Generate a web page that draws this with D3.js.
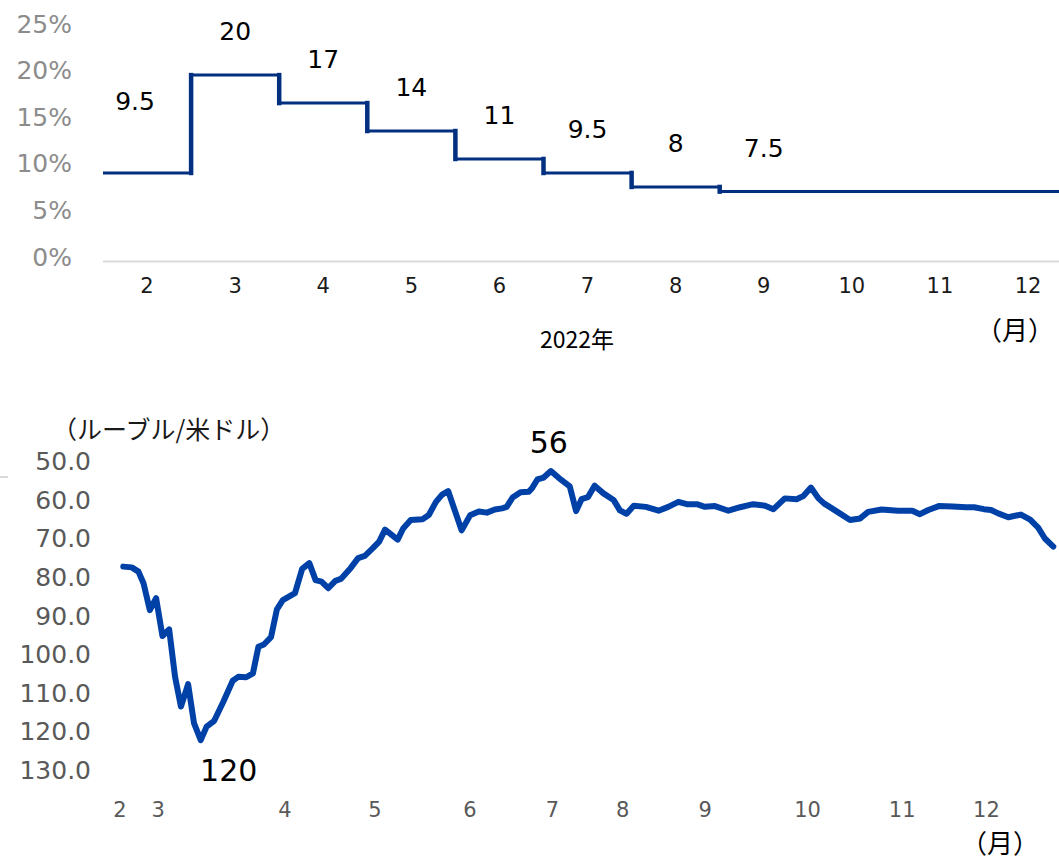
<!DOCTYPE html>
<html>
<head>
<meta charset="utf-8">
<script src="https://cdn.jsdelivr.net/npm/d3@7"></script>
<style>
  html, body { margin: 0; padding: 0; background: #fff; }
  svg { display: block; }
  text { font-family: "DejaVu Sans", Verdana, sans-serif; }
  .jp { font-family: "Noto Sans CJK JP", "DejaVu Sans", sans-serif; }
</style>
</head>
<body>
<svg id="chart" width="1059" height="861"></svg>
<script>
// ---------- Top chart: policy rate (%) ----------
const rateMonths = ["2", "3", "4", "5", "6", "7", "8", "9", "10", "11", "12"];
const rateValues = [9.5, 20, 17, 14, 11, 9.5, 8, 7.5, 7.5, 7.5, 7.5];
const rateLabels = ["9.5", "20", "17", "14", "11", "9.5", "8", "7.5", "", "", ""];
const rateTicks = [0, 5, 10, 15, 20, 25];

// ---------- Bottom chart: RUB per USD (trading-day index, value) ----------
const fxDay = [0, 2.0, 3.6, 4.8, 6.3, 7.8, 9.3, 10.9, 12.3, 13.7, 15.4, 16.8, 18.4, 19.8, 21.6, 23.8,
  26.0, 27.3, 29.2, 30.8, 32.1, 33.4, 35.1, 36.5, 37.9, 40.8, 42.5, 44.2, 45.7, 47.1, 48.7, 50.4,
  51.7, 54.0, 55.8, 57.4, 59.3, 60.8, 62.2, 65.2, 66.5, 68.3, 71.1, 72.6, 74.3, 75.7, 77.2, 80.4,
  82.4, 84.5, 86.4, 88.3, 90.0, 91.1, 92.5, 94.4, 96.3, 97.1, 98.4, 99.9, 101.6, 103.6, 106.1,
  107.6, 108.9, 110.4, 112.0, 114.1, 116.5, 118.0, 119.6, 121.3, 124.2, 127.2, 129.5, 131.9,
  133.9, 136.3, 138.2, 140.6, 143.8, 146.6, 149.7, 152.5, 154.5, 157.2, 160.0, 161.6, 163.4,
  165.2, 166.5, 169.7, 172.7, 175.1, 177.0, 180.2, 184.1, 187.5, 189.3, 191.3, 193.8, 197.1,
  200.3, 202.2, 204.5, 206.2, 207.9, 210.3, 213.3, 215.5, 217.4, 219.0, 221.0];
const fxRate = [76.8, 77.0, 78.1, 81.1, 88.1, 85.0, 94.8, 93.1, 105.4, 113.1, 107.3, 117.4, 121.8, 118.3, 116.8, 111.8,
  106.4, 105.4, 105.5, 104.5, 97.6, 97.0, 95.1, 87.9, 85.5, 83.7, 77.4, 75.9, 80.3, 80.7, 82.4, 80.5,
  80.0, 77.2, 74.6, 74.0, 72.0, 70.3, 67.2, 69.8, 66.9, 64.7, 64.5, 63.4, 60.0, 58.2, 57.2, 67.4,
  63.5, 62.5, 62.8, 62.0, 61.7, 61.3, 58.9, 57.5, 57.4, 56.5, 54.2, 53.7, 52.0, 53.9, 56.0,
  62.4, 59.3, 58.8, 55.8, 57.8, 59.5, 62.2, 63.1, 61.0, 61.3, 62.3, 61.3, 60.0,
  60.6, 60.6, 61.3, 61.1, 62.3, 61.4, 60.6, 61.0, 61.9, 59.1, 59.3, 58.5, 56.3,
  59.1, 60.4, 62.6, 64.7, 64.3, 62.6, 62.0, 62.3, 62.3, 63.2, 62.1, 61.1, 61.2,
  61.4, 61.4, 61.9, 62.1, 63.0, 64.0, 63.3, 64.6, 66.7, 69.5, 71.6];
const fxTicks = [50, 60, 70, 80, 90, 100, 110, 120, 130];
const fxMonthLabels = ["2", "3", "4", "5", "6", "7", "8", "9", "10", "11", "12"];
const fxMonthDays = [-0.8, 8.3, 38.4, 59.8, 82.4, 102.0, 118.7, 138.3, 162.6, 185.1, 205.1];
const fxAnnotations = [{ text: "120", day: 18.4, value: 121.8, dy: 32, dx: 28 },
                       { text: "56", day: 101.6, value: 52.0, dy: -27, dx: -2 }];

const svg = d3.select("#chart");

// ===== Top chart =====
const topNavy = "#00307f";
const xTop = d3.scaleBand().domain(rateMonths).range([103, 103 + 88.1 * rateMonths.length]).padding(0);
const yTop = d3.scaleLinear().domain([0, 25]).range([261.5, 28.5]);

svg.append("line").attr("x1", 103).attr("x2", 1059)
  .attr("y1", yTop(0)).attr("y2", yTop(0))
  .attr("stroke", "#d9d9d9").attr("stroke-width", 2);

svg.append("g").selectAll("text").data(rateTicks).join("text")
  .attr("x", 72).attr("y", d => yTop(d) - 3)
  .attr("text-anchor", "end").attr("dominant-baseline", "middle")
  .attr("fill", "#8c8c8c").attr("font-size", 25)
  .text(d => d + "%");

svg.append("g").selectAll("text").data(rateMonths).join("text")
  .attr("x", d => xTop(d) + xTop.bandwidth() / 2).attr("y", 287)
  .attr("text-anchor", "middle").attr("dominant-baseline", "middle")
  .attr("fill", "#1a1a1a").attr("font-size", 21)
  .text(d => d);

const stepPts = rateMonths.map((m, i) => [xTop(m), rateValues[i]]);
stepPts.push([xTop(rateMonths[rateMonths.length - 1]) + xTop.bandwidth(), rateValues[rateValues.length - 1]]);
const stepLine = d3.line().x(d => d[0]).y(d => yTop(d[1])).curve(d3.curveStepAfter);
svg.append("path").attr("d", stepLine(stepPts))
  .attr("fill", "none").attr("stroke", topNavy).attr("stroke-width", 3);
svg.append("g").selectAll("line").data(rateMonths.slice(1)).join("line")
  .attr("x1", d => xTop(d)).attr("x2", d => xTop(d))
  .attr("y1", (d, i) => yTop(rateValues[i])).attr("y2", (d, i) => yTop(rateValues[i + 1]))
  .attr("stroke", topNavy).attr("stroke-width", (d, i) => rateValues[i] === rateValues[i + 1] ? 0 : 4.5)
  .attr("stroke-linecap", "square");

svg.append("g").selectAll("text").data(rateMonths).join("text")
  .attr("x", (d, i) => xTop(d) + xTop.bandwidth() / 2 + (i === 0 ? -12 : 0))
  .attr("y", (d, i) => yTop(rateValues[i]) - (i === 0 ? 70 : 42))
  .attr("text-anchor", "middle").attr("dominant-baseline", "middle")
  .attr("fill", "#000").attr("font-size", 25)
  .text((d, i) => rateLabels[i]);

svg.append("text").attr("class", "jp")
  .attr("x", 577).attr("y", 342).attr("text-anchor", "middle").attr("dominant-baseline", "middle")
  .attr("fill", "#000").attr("font-size", 23).text("2022年");
svg.append("text").attr("class", "jp")
  .attr("x", 1015).attr("y", 333).attr("text-anchor", "middle").attr("dominant-baseline", "middle")
  .attr("fill", "#000").attr("font-size", 26).text("（月）");

// ===== Bottom chart =====
const fxBlue = "#0041a8";
const xBot = d3.scaleLinear().domain([0, 221]).range([123.3, 1053.3]);
const yBot = d3.scaleLinear().domain([50, 130]).range([463.3, 771.7]);

svg.append("line").attr("x1", 0).attr("x2", 8).attr("y1", 477).attr("y2", 477)
  .attr("stroke", "#d9d9d9").attr("stroke-width", 2);

svg.append("text").attr("class", "jp")
  .attr("x", 52).attr("y", 432).attr("dominant-baseline", "middle")
  .attr("fill", "#1a1a1a").attr("font-size", 25).text("（ルーブル/米ドル）");

svg.append("g").selectAll("text").data(fxTicks).join("text")
  .attr("x", 91).attr("y", d => yBot(d))
  .attr("text-anchor", "end").attr("dominant-baseline", "middle")
  .attr("fill", "#595959").attr("font-size", 25)
  .text(d => d.toFixed(1));

svg.append("g").selectAll("text").data(fxMonthLabels).join("text")
  .attr("x", (d, i) => xBot(fxMonthDays[i])).attr("y", 811)
  .attr("text-anchor", "middle").attr("dominant-baseline", "middle")
  .attr("fill", "#595959").attr("font-size", 21)
  .text(d => d);

const fxLine = d3.line().x((d, i) => xBot(fxDay[i])).y(d => yBot(d));
svg.append("path").attr("d", fxLine(fxRate))
  .attr("fill", "none").attr("stroke", fxBlue).attr("stroke-width", 6)
  .attr("stroke-linejoin", "round").attr("stroke-linecap", "round");

svg.append("g").selectAll("text").data(fxAnnotations).join("text")
  .attr("x", d => xBot(d.day) + d.dx).attr("y", d => yBot(d.value) + d.dy)
  .attr("text-anchor", "middle").attr("dominant-baseline", "middle")
  .attr("fill", "#000").attr("font-size", 30)
  .text(d => d.text);

svg.append("text").attr("class", "jp")
  .attr("x", 1000).attr("y", 846).attr("text-anchor", "middle").attr("dominant-baseline", "middle")
  .attr("fill", "#000").attr("font-size", 26).text("（月）");
</script>
</body>
</html>
